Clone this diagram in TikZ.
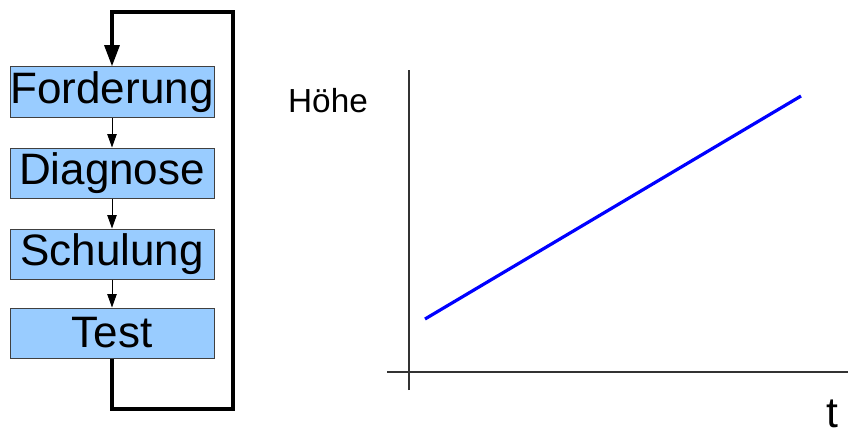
\documentclass[tikz,border=0pt]{standalone}
\usepackage{fontspec}
\setmainfont{Liberation Sans}
\usetikzlibrary{arrows.meta}
\definecolor{boxblue}{HTML}{99CCFF}
\definecolor{boxline}{HTML}{404040}
\begin{document}
\begin{tikzpicture}[x=0.75pt,y=-0.75pt,
  stepbox/.style={draw=boxline,line width=0.75pt,fill=boxblue,minimum width=153pt,minimum height=37.5pt,inner sep=0pt,font=\fontsize{33}{36}\selectfont},
  smallarrow/.style={line width=0.75pt,-{Triangle[length=10pt,width=7pt]}},
  looparrow/.style={line width=3pt,-{Triangle[length=16pt,width=11pt]}},
  axis/.style={draw=black!80,line width=0.8pt}]
\useasboundingbox (0,0) rectangle (848,435);
\node[stepbox] (ford) at (112,92) {Forderung};
\node[stepbox] (diag) at (112,173) {Diagnose};
\node[stepbox] (schu) at (112,254) {Schulung};
\node[stepbox] (test) at (112,333) {Test};
\draw[smallarrow] (ford) -- (diag);
\draw[smallarrow] (diag) -- (schu);
\draw[smallarrow] (schu) -- (test);
\coordinate (lb) at (112,409);
\coordinate (rb) at (233,409);
\coordinate (rt) at (233,12);
\coordinate (lt) at (112,12);
\draw[looparrow] (test.south) -- (lb) -- (rb) -- (rt) -- (lt) -- (ford.north);
\node[font=\fontsize{25}{30}\selectfont] (hoehe) at (328,101) {Höhe};
\node[font=\fontsize{32}{36}\selectfont] (t) at (832,414) {t};
\coordinate (ytop) at (409,70);
\coordinate (ybot) at (409,390);
\coordinate (xl) at (387,372);
\coordinate (xr) at (848,372);
\draw[axis] (ybot) -- (ytop);
\draw[axis] (xl) -- (xr);
\coordinate (b1) at (425,319);
\coordinate (b2) at (801,96);
\draw[blue,line width=2.4pt] (b1) -- (b2);
\end{tikzpicture}
\end{document}
